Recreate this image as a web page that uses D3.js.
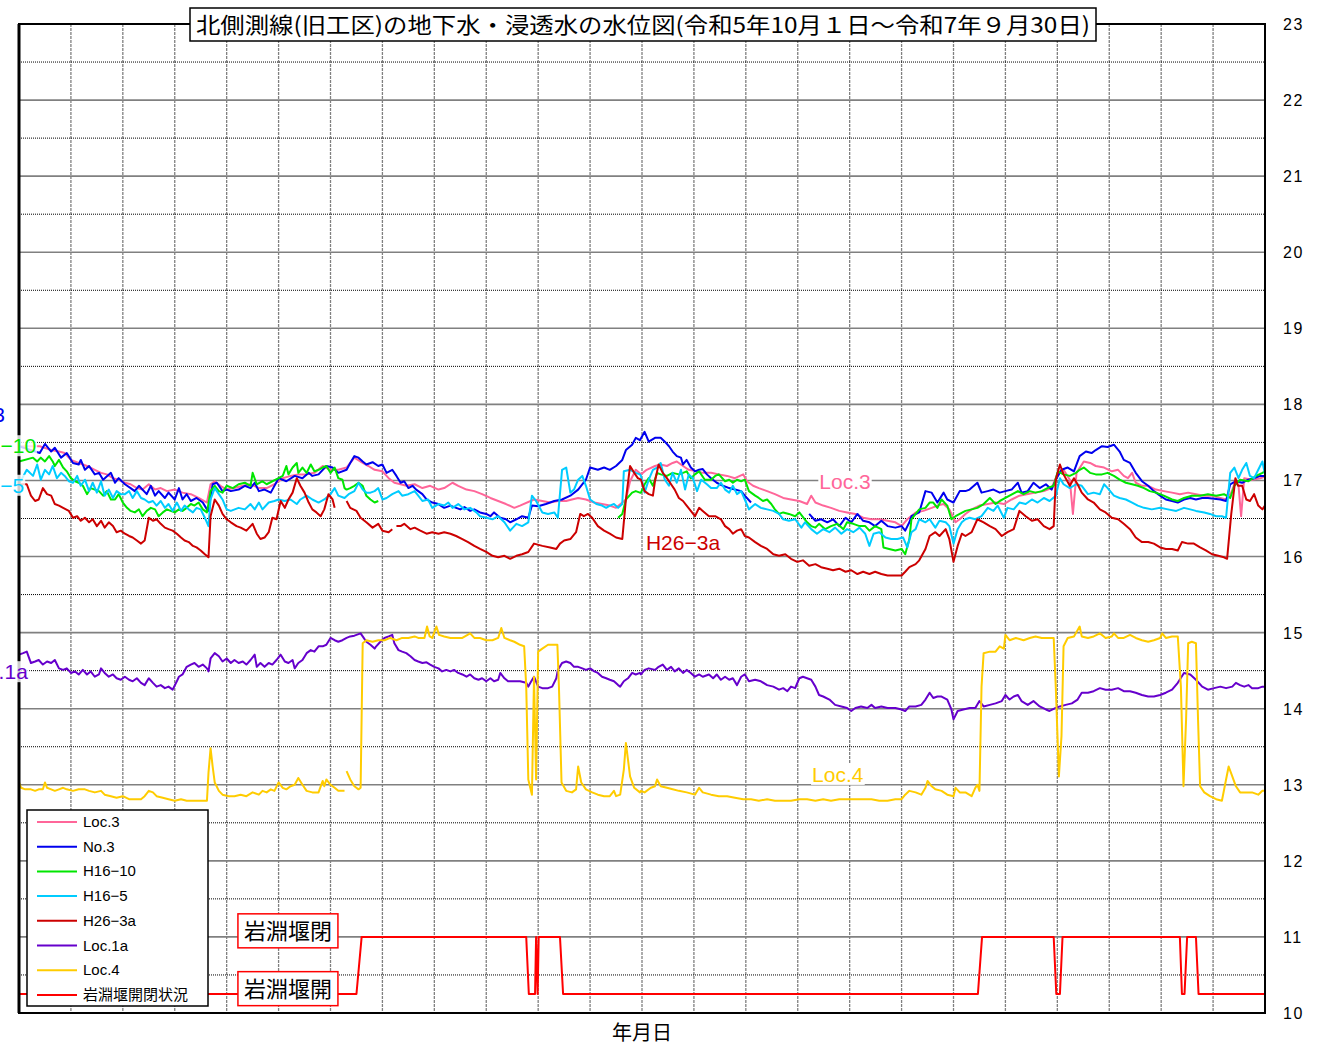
<!DOCTYPE html>
<html>
<head>
<meta charset="utf-8">
<script src="https://cdn.jsdelivr.net/npm/d3@7/dist/d3.min.js"></script>
<style>
  body { margin: 0; background: #fff; }
  svg text { font-family: "Noto Sans CJK JP", "Liberation Sans", sans-serif; }
</style>
</head>
<body>
<svg id="chart" width="1326" height="1047"></svg>
<script>
// x values are months elapsed since 2023-10-01 (0 .. 24), y values are water levels (m)
var loc3 = [[0,17.45],[0.4,17.45],[0.62,17.40],[0.77,17.38],[0.88,17.36],[1.0,17.27],[1.15,17.23],[1.31,17.19],[1.46,17.14],[1.58,17.10],[1.69,17.08],[1.81,17.03],[1.92,17.01],[2.04,16.97],[2.15,16.95],[2.27,16.90],[2.38,16.88],[2.5,16.95],[2.62,16.88],[2.73,16.90],[2.85,16.86],[3.0,16.88],[3.15,16.84],[3.31,16.82],[3.46,16.77],[3.62,16.71],[3.69,16.95],[3.77,16.99],[3.88,16.93],[4.0,16.88],[4.15,16.90],[4.31,16.93],[4.46,16.95],[4.62,16.90],[4.77,16.90],[4.92,16.95],[5.08,17.03],[5.23,17.06],[5.38,17.08],[5.54,17.08],[5.69,17.10],[5.85,17.19],[6.0,17.14],[6.15,17.14],[6.31,17.17],[6.46,17.30],[6.62,17.23],[6.73,17.19],[6.85,17.14],[7.0,17.12],[7.12,17.03],[7.23,16.97],[7.35,16.95],[7.46,16.93],[7.62,16.95],[7.77,16.90],[7.92,16.93],[8.08,16.88],[8.19,16.90],[8.35,16.97],[8.46,16.93],[8.62,16.88],[8.77,16.86],[8.92,16.82],[9.08,16.77],[9.23,16.73],[9.38,16.69],[9.54,16.64],[9.65,16.67],[9.92,16.75],[10.08,16.73],[10.23,16.71],[10.38,16.73],[10.54,16.73],[10.65,16.75],[10.77,16.77],[10.92,16.75],[11.08,16.71],[11.23,16.69],[11.38,16.67],[11.5,16.64],[11.69,16.75],[11.77,16.99],[11.88,17.14],
  [11.98,17.08],[12.09,17.14],[12.25,17.19],[12.36,17.21],[12.48,17.19],[12.59,17.23],[12.67,17.25],[12.79,17.19],[12.9,17.14],[13.06,17.12],[13.17,17.10],[13.33,17.10],[13.48,17.08],[13.64,17.06],[13.79,17.03],[13.95,17.08],[14.02,16.99],[14.14,16.93],[14.25,16.90],[14.41,16.86],[14.56,16.82],[14.72,16.77],[14.87,16.75],[15.03,16.73],[15.18,16.69],[15.26,16.80],[15.34,16.71],[15.49,16.67],[15.64,16.64],[15.8,16.60],[15.95,16.58],[16.11,16.56],[16.26,16.51],[16.42,16.49],[16.57,16.49],[16.73,16.47],[16.88,16.45],[17.0,16.40],[17.11,16.49],[17.27,16.58],[17.42,16.60],[17.58,16.64],[17.69,16.67],[17.81,16.69],[17.92,16.62],[18.04,16.45],[18.12,16.49],[18.23,16.56],[18.35,16.62],[18.5,16.67],[18.66,16.69],[18.81,16.71],[18.97,16.69],[19.12,16.75],[19.27,16.80],[19.41,16.82],[19.58,16.84],[19.74,16.86],[19.89,16.90],[20.01,17.10],[20.12,17.14],[20.24,17.01],[20.3,16.56],[20.37,17.10],[20.51,17.25],[20.63,17.23],[20.74,17.19],[20.9,17.17],[21.05,17.12],[21.17,17.14],[21.28,17.06],[21.36,17.03],[21.44,17.10],[21.51,16.97],[21.63,16.93],[21.75,16.93],[21.9,16.88],[22.05,16.86],[22.21,16.84],[22.36,16.82],[22.52,16.84],[22.67,16.82],[22.83,16.80],[22.98,16.80],[23.14,16.77],[23.25,16.75],[23.35,16.84],[23.43,16.99],[23.49,16.93],[23.54,16.53],[23.6,17.03],[23.75,17.01],[23.91,17.03],[24,17.05]];

var no3 = [[0,17.45],[0.4,17.36],[0.5,17.48],[0.62,17.38],[0.69,17.43],[0.81,17.30],[0.92,17.36],[1.04,17.23],[1.15,17.21],[1.19,17.27],[1.27,17.14],[1.35,17.19],[1.46,17.08],[1.54,17.10],[1.62,17.01],[1.77,17.10],[1.85,16.97],[1.92,17.03],[2.04,16.95],[2.15,16.90],[2.23,16.86],[2.31,16.93],[2.46,16.82],[2.54,16.93],[2.62,16.80],[2.69,16.86],[2.81,16.77],[2.88,16.84],[3.0,16.75],[3.08,16.90],[3.15,16.75],[3.23,16.82],[3.31,16.73],[3.42,16.77],[3.54,16.71],[3.62,16.62],[3.65,16.60],[3.73,16.95],[3.81,16.97],[3.92,16.86],[4.0,16.88],[4.08,16.86],[4.23,16.88],[4.35,16.93],[4.46,16.90],[4.54,16.97],[4.62,16.86],[4.73,16.88],[4.85,16.84],[5.0,17.03],[5.15,16.99],[5.31,17.06],[5.46,17.03],[5.58,17.10],[5.65,17.06],[5.77,17.08],[5.92,17.19],[6.04,17.17],[6.15,17.10],[6.31,17.14],[6.38,17.23],[6.46,17.32],[6.54,17.30],[6.62,17.25],[6.69,17.21],[6.81,17.24],[6.92,17.19],[7.0,17.21],[7.08,17.10],[7.19,17.14],[7.27,17.06],[7.35,16.97],[7.42,16.99],[7.5,16.90],[7.58,16.93],[7.65,16.88],[7.77,16.82],[7.85,16.75],[7.96,16.71],[8.08,16.69],[8.19,16.64],[8.31,16.67],[8.38,16.65],[8.5,16.62],[8.58,16.65],[8.69,16.60],[8.77,16.62],[8.88,16.58],[9.0,16.56],[9.08,16.53],[9.15,16.58],[9.27,16.51],[9.38,16.49],[9.46,16.45],[9.58,16.49],[9.69,16.53],[9.81,16.51],[9.88,16.67],[10.0,16.66],[10.15,16.69],[10.31,16.73],[10.46,16.75],[10.62,16.80],[10.77,16.88],[10.92,17.01],[11.0,17.17],[11.15,17.14],[11.27,17.17],[11.38,17.14],[11.5,17.19],[11.62,17.27],[11.69,17.40],[11.81,17.47],[11.88,17.56],[11.96,17.53],
  [12.05,17.64],[12.13,17.51],[12.25,17.56],[12.36,17.56],[12.44,17.51],[12.52,17.45],[12.59,17.38],[12.67,17.32],[12.75,17.30],[12.79,17.21],[12.86,17.27],[12.94,17.17],[13.02,17.12],[13.1,17.14],[13.17,17.15],[13.25,17.08],[13.33,17.03],[13.44,16.97],[13.56,16.93],[13.68,16.90],[13.79,16.88],[13.91,16.86],[13.98,16.80],[14.1,16.71],null,
  [15.22,16.56],[15.34,16.47],[15.45,16.49],[15.57,16.45],[15.68,16.49],[15.8,16.40],[15.92,16.51],[16.03,16.45],[16.15,16.56],[16.26,16.47],[16.38,16.45],[16.49,16.40],[16.61,16.47],[16.73,16.40],[16.88,16.38],[17.0,16.40],[17.07,16.34],[17.15,16.45],[17.19,16.53],[17.34,16.58],[17.46,16.86],[17.58,16.84],[17.69,16.71],[17.81,16.84],[17.88,16.75],[18.0,16.71],[18.12,16.86],[18.23,16.86],[18.31,16.88],[18.46,16.97],[18.54,16.84],[18.66,16.86],[18.77,16.88],[18.89,16.84],[19.0,16.86],[19.12,16.88],[19.24,16.97],[19.31,16.84],[19.43,16.86],[19.54,16.97],[19.66,16.90],[19.78,16.95],[19.89,16.88],[19.97,17.01],[20.08,17.14],[20.2,17.17],[20.32,17.12],[20.43,17.32],[20.55,17.38],[20.66,17.36],[20.74,17.40],[20.86,17.45],[20.97,17.44],[21.09,17.47],[21.2,17.38],[21.28,17.27],[21.4,17.23],[21.51,17.10],[21.63,16.99],[21.75,16.93],[21.86,16.86],[21.98,16.80],[22.09,16.75],[22.21,16.73],[22.32,16.71],[22.44,16.75],[22.56,16.77],[22.67,16.75],[22.79,16.77],[22.9,16.77],[23.02,16.76],[23.14,16.75],[23.25,16.73],[23.33,16.95],[23.44,16.99],[23.56,16.97],[23.68,17.01],[23.79,17.03],[23.91,17.06],[24,17.06]];

var h16_10 = [[0,17.25],[0.27,17.30],[0.35,17.25],[0.42,17.30],[0.5,17.25],[0.58,17.32],[0.65,17.25],[0.69,17.19],[0.77,17.27],[0.85,17.17],[0.92,17.12],[1.0,17.03],[1.08,16.99],[1.15,16.97],[1.23,16.93],[1.31,16.82],[1.38,16.90],[1.46,16.88],[1.54,16.86],[1.62,16.80],[1.69,16.86],[1.77,16.75],[1.85,16.75],[1.92,16.82],[2.0,16.71],[2.08,16.64],[2.15,16.60],[2.23,16.58],[2.31,16.62],[2.38,16.53],[2.46,16.60],[2.54,16.64],[2.62,16.62],[2.69,16.53],[2.77,16.58],[2.85,16.62],[2.92,16.60],[3.0,16.58],[3.08,16.62],[3.15,16.60],[3.23,16.64],[3.31,16.69],[3.38,16.67],[3.46,16.71],[3.54,16.62],[3.62,16.58],[3.69,16.86],[3.77,16.93],[3.85,16.86],[3.92,16.84],[4.0,16.93],[4.12,16.90],[4.23,16.95],[4.35,16.97],[4.46,16.93],[4.5,17.10],[4.58,16.95],[4.69,16.99],[4.77,16.95],[5.0,17.03],[5.08,17.06],[5.15,17.19],[5.19,17.08],[5.27,17.17],[5.35,17.23],[5.38,17.10],[5.46,17.17],[5.54,17.10],[5.62,17.21],[5.69,17.12],[5.77,17.14],[5.85,17.17],[5.92,17.19],[6.0,17.10],[6.08,17.17],[6.15,17.03],[6.23,17.01],[6.27,16.90],[6.31,16.88],[6.38,16.90],[6.46,16.93],[6.54,16.97],[6.62,16.93],[6.69,16.80],[6.77,16.75],[6.85,16.71],[6.92,16.73],null,
  [11.54,16.51],[11.62,16.56],[11.69,16.75],[11.81,16.84],[11.88,16.86],[11.96,16.84],[11.98,16.84],[12.05,16.95],[12.13,17.03],[12.21,16.93],[12.29,17.10],[12.36,17.08],[12.48,17.06],[12.59,17.10],[12.71,17.08],[12.79,17.10],[12.86,17.12],[12.94,17.03],[13.02,17.08],[13.1,17.12],[13.21,17.01],[13.33,17.01],[13.41,17.06],[13.48,17.08],[13.6,16.99],[13.68,17.01],[13.75,16.97],[13.83,17.01],[13.91,16.99],[13.98,17.01],[14.06,16.86],[14.18,16.80],[14.25,16.77],[14.33,16.73],[14.41,16.75],[14.49,16.69],[14.56,16.62],[14.64,16.56],[14.72,16.58],[14.83,16.56],[14.95,16.53],[15.03,16.58],[15.18,16.45],[15.26,16.40],[15.34,16.38],[15.41,16.43],[15.53,16.36],[15.64,16.40],[15.76,16.43],[15.88,16.36],[15.95,16.45],[16.07,16.43],[16.19,16.40],[16.3,16.40],[16.38,16.34],[16.49,16.40],[16.61,16.36],[16.65,16.12],[16.76,16.10],[16.88,16.08],[17.0,16.10],[17.07,16.03],[17.15,16.23],[17.19,16.49],[17.27,16.56],[17.34,16.62],[17.46,16.64],[17.54,16.71],[17.61,16.71],[17.69,16.64],[17.77,16.75],[17.88,16.67],[17.96,16.49],[18.04,16.53],[18.12,16.56],[18.23,16.60],[18.35,16.62],[18.46,16.64],[18.58,16.69],[18.7,16.77],[18.81,16.69],[18.89,16.73],[19.0,16.77],[19.08,16.80],[19.24,16.86],[19.35,16.82],[19.47,16.86],[19.58,16.84],[19.7,16.86],[19.81,16.90],[19.93,16.93],[20.01,17.12],[20.12,17.08],[20.24,17.06],[20.36,17.10],[20.43,17.14],[20.51,17.17],[20.63,17.10],[20.74,17.08],[20.86,17.08],[20.97,17.10],[21.09,17.06],[21.2,17.01],[21.32,16.97],[21.44,16.95],[21.55,16.93],[21.67,16.90],[21.78,16.86],[21.9,16.84],[22.05,16.80],[22.21,16.75],[22.32,16.73],[22.44,16.77],[22.59,16.80],[22.75,16.80],[22.9,16.82],[23.06,16.80],[23.21,16.82],[23.33,16.77],[23.41,16.93],[23.52,17.01],[23.68,16.99],[23.83,17.06],[23.95,17.10],[24,17.12]];

var h16_5 = [[0,16.95],[0.15,17.14],[0.27,17.06],[0.35,17.21],[0.42,17.01],[0.5,17.14],[0.58,17.08],[0.65,17.19],[0.73,17.03],[0.81,17.10],[0.88,17.06],[0.96,16.99],[1.04,16.97],[1.12,17.06],[1.19,16.93],[1.27,17.01],[1.35,16.86],[1.42,16.97],[1.5,16.84],[1.58,16.99],[1.65,16.80],[1.73,16.88],[1.81,16.77],[1.88,16.86],[1.96,16.82],[2.04,16.82],[2.12,16.86],[2.19,16.77],[2.27,16.86],[2.35,16.77],[2.42,16.75],[2.5,16.71],[2.58,16.73],[2.65,16.67],[2.73,16.73],[2.81,16.64],[2.88,16.69],[2.96,16.60],[3.04,16.71],[3.12,16.60],[3.19,16.67],[3.27,16.62],[3.35,16.58],[3.42,16.64],[3.5,16.62],[3.58,16.51],[3.65,16.40],[3.69,16.75],[3.77,16.90],[3.85,16.82],[3.92,16.75],[4.0,16.62],[4.08,16.60],[4.23,16.64],[4.35,16.62],[4.46,16.69],[4.54,16.62],[4.62,16.71],[4.69,16.62],[4.81,16.71],[4.92,16.73],[5.0,16.75],[5.12,16.73],[5.23,16.75],[5.35,16.69],[5.42,16.75],[5.54,16.80],[5.65,16.75],[5.77,16.71],[5.88,16.75],[6.0,16.82],[6.08,16.90],[6.15,16.80],[6.27,16.77],[6.35,16.82],[6.46,16.86],[6.54,16.97],[6.62,16.88],[6.69,16.84],[6.77,16.84],[6.85,16.86],[6.92,16.90],[7.0,16.75],[7.08,16.77],[7.19,16.82],[7.31,16.86],[7.38,16.80],[7.5,16.82],[7.62,16.86],[7.69,16.80],[7.77,16.73],[7.88,16.75],[7.96,16.64],[8.08,16.69],[8.19,16.67],[8.27,16.71],[8.35,16.64],[8.46,16.69],[8.58,16.62],[8.69,16.64],[8.81,16.58],[8.88,16.53],[9.0,16.51],[9.12,16.49],[9.23,16.53],[9.35,16.45],[9.46,16.34],[9.58,16.43],[9.69,16.40],[9.81,16.45],[9.88,16.80],[9.96,16.73],[10.08,16.58],[10.19,16.56],[10.31,16.58],[10.38,16.51],[10.46,17.14],[10.54,17.17],[10.62,16.84],[10.69,16.88],[10.77,17.01],[10.85,17.06],[10.92,16.93],[11.0,16.75],[11.12,16.69],[11.23,16.67],[11.31,16.64],[11.38,16.67],[11.46,16.69],[11.54,16.64],[11.62,16.69],[11.65,17.12],[11.77,17.14],[11.88,17.10],[11.96,17.08],
  [11.98,17.06],[12.05,16.84],[12.13,17.01],[12.21,17.14],[12.29,17.17],[12.36,17.23],[12.44,17.01],[12.52,16.93],[12.59,17.10],[12.67,16.97],[12.75,17.14],[12.83,16.88],[12.9,17.08],[12.98,17.03],[13.06,16.86],[13.14,17.01],[13.25,16.95],[13.33,16.90],[13.44,16.90],[13.52,16.97],[13.6,16.88],[13.68,16.84],[13.75,16.93],[13.83,16.82],[13.91,16.86],[13.98,16.75],[14.06,16.62],[14.18,16.69],[14.29,16.64],[14.41,16.62],[14.53,16.60],[14.64,16.56],[14.72,16.49],[14.83,16.47],[14.95,16.49],[15.07,16.38],[15.14,16.45],[15.26,16.36],[15.37,16.30],[15.49,16.36],[15.61,16.32],[15.72,16.38],[15.84,16.30],[15.95,16.36],[16.07,16.32],[16.19,16.38],[16.3,16.30],[16.38,16.14],[16.46,16.30],[16.57,16.32],[16.69,16.25],[16.8,16.23],[16.92,16.23],[17.03,16.25],[17.11,16.12],[17.19,16.32],[17.27,16.36],[17.34,16.49],[17.46,16.45],[17.54,16.49],[17.65,16.38],[17.73,16.47],[17.85,16.45],[17.92,16.40],[18.0,16.17],[18.08,16.36],[18.16,16.45],[18.23,16.49],[18.31,16.51],[18.42,16.49],[18.54,16.53],[18.66,16.64],[18.77,16.60],[18.85,16.67],[18.97,16.51],[19.04,16.64],[19.16,16.62],[19.27,16.71],[19.39,16.69],[19.51,16.75],[19.62,16.71],[19.74,16.77],[19.85,16.73],[19.97,16.80],[20.05,17.03],[20.12,16.95],[20.24,16.90],[20.36,16.95],[20.47,16.93],[20.59,16.82],[20.7,16.84],[20.82,16.82],[20.9,16.95],[20.97,16.90],[21.09,16.80],[21.2,16.77],[21.32,16.75],[21.44,16.71],[21.55,16.67],[21.67,16.64],[21.82,16.62],[21.98,16.64],[22.13,16.62],[22.29,16.60],[22.44,16.64],[22.56,16.62],[22.67,16.60],[22.83,16.58],[22.94,16.56],[23.06,16.53],[23.17,16.53],[23.25,16.51],[23.33,17.10],[23.41,17.17],[23.49,17.03],[23.56,17.14],[23.64,17.23],[23.71,17.06],[23.79,17.03],[23.87,17.14],[23.95,17.25],[24,17.08]];

var h26_3a = [[0,16.95],[0.15,16.95],[0.23,16.80],[0.31,16.73],[0.38,16.75],[0.46,16.90],[0.54,16.82],[0.62,16.80],[0.69,16.69],[0.77,16.67],[0.85,16.64],[0.96,16.60],[1.04,16.51],[1.12,16.53],[1.19,16.47],[1.27,16.51],[1.35,16.45],[1.42,16.49],[1.5,16.40],[1.58,16.47],[1.65,16.38],[1.73,16.45],[1.81,16.40],[1.88,16.32],[1.96,16.34],[2.04,16.30],[2.12,16.27],[2.19,16.25],[2.27,16.21],[2.35,16.17],[2.42,16.21],[2.5,16.51],[2.58,16.47],[2.65,16.49],[2.73,16.43],[2.81,16.38],[2.88,16.36],[2.96,16.34],[3.04,16.30],[3.12,16.25],[3.19,16.21],[3.27,16.19],[3.35,16.14],[3.42,16.12],[3.5,16.08],[3.58,16.03],[3.65,15.99],[3.69,16.53],[3.77,16.75],[3.85,16.67],[3.92,16.56],[4.0,16.49],[4.08,16.45],[4.19,16.40],[4.27,16.38],[4.38,16.34],[4.5,16.43],[4.58,16.30],[4.65,16.23],[4.73,16.25],[4.81,16.32],[4.88,16.51],[4.96,16.49],[5.04,16.73],[5.12,16.64],[5.19,16.75],[5.27,16.84],[5.35,17.03],[5.42,16.93],[5.5,16.84],[5.58,16.71],[5.65,16.62],[5.73,16.58],[5.81,16.53],[5.88,16.62],[5.96,16.82],[6.04,16.75],[6.08,16.64],null,
  [6.31,16.73],[6.38,16.64],[6.5,16.60],[6.58,16.51],[6.69,16.45],[6.81,16.38],[6.92,16.43],[7.0,16.34],[7.12,16.32],[7.19,16.36],null,
  [7.27,16.40],[7.35,16.40],[7.42,16.43],[7.54,16.36],[7.62,16.38],[7.73,16.34],[7.85,16.30],[7.96,16.32],[8.08,16.30],[8.19,16.32],[8.31,16.30],[8.42,16.27],[8.54,16.23],[8.65,16.19],[8.77,16.14],[8.88,16.10],[9.0,16.06],[9.12,16.01],[9.23,15.99],[9.35,16.01],[9.46,15.97],[9.58,16.01],[9.69,16.03],[9.81,16.06],[9.92,16.17],[10.08,16.14],[10.23,16.12],[10.35,16.10],[10.42,16.17],[10.5,16.21],[10.62,16.23],[10.73,16.32],[10.81,16.56],[10.88,16.53],[10.96,16.56],[11.04,16.51],[11.15,16.40],[11.27,16.34],[11.38,16.30],[11.5,16.25],[11.62,16.23],[11.69,16.75],[11.77,17.19],[11.85,17.10],[11.92,17.03],
  [11.98,17.01],[12.05,16.86],[12.13,16.82],[12.21,16.80],[12.25,16.99],[12.32,17.21],[12.4,17.10],[12.48,17.03],[12.56,16.95],[12.63,16.88],[12.71,16.77],[12.79,16.73],[12.86,16.67],[12.94,16.60],[13.02,16.53],[13.1,16.64],[13.17,16.60],[13.29,16.53],[13.41,16.53],[13.52,16.49],[13.6,16.40],[13.68,16.36],[13.75,16.30],[13.83,16.34],[13.91,16.36],[13.98,16.27],[14.06,16.25],[14.18,16.19],[14.29,16.14],[14.41,16.10],[14.53,16.03],[14.64,16.01],[14.76,16.03],[14.87,15.97],[14.99,15.93],[15.1,15.95],[15.22,15.88],[15.34,15.90],[15.45,15.86],[15.57,15.84],[15.68,15.82],[15.8,15.84],[15.92,15.80],[16.03,15.82],[16.15,15.77],[16.26,15.80],[16.38,15.77],[16.49,15.80],[16.61,15.77],[16.73,15.75],[16.88,15.75],[17.0,15.75],[17.07,15.80],[17.15,15.86],[17.27,15.90],[17.34,15.95],[17.46,16.10],[17.54,16.27],[17.65,16.32],[17.73,16.27],[17.85,16.36],[17.92,16.23],[18.0,15.93],[18.08,16.14],[18.16,16.30],[18.23,16.27],[18.35,16.32],[18.46,16.49],[18.58,16.45],[18.7,16.40],[18.81,16.36],[18.93,16.27],[19.04,16.32],[19.16,16.36],[19.27,16.60],[19.39,16.53],[19.51,16.47],[19.62,16.49],[19.74,16.40],[19.85,16.36],[19.93,16.40],[19.97,17.01],[20.05,17.21],[20.12,17.08],[20.24,16.93],[20.32,17.03],[20.39,16.95],[20.47,16.84],[20.59,16.75],[20.7,16.71],[20.82,16.62],[20.93,16.58],[21.05,16.51],[21.17,16.49],[21.28,16.43],[21.4,16.36],[21.51,16.25],[21.63,16.19],[21.75,16.19],[21.86,16.17],[21.98,16.12],[22.09,16.10],[22.21,16.10],[22.32,16.08],[22.4,16.19],[22.52,16.17],[22.63,16.17],[22.75,16.12],[22.86,16.08],[22.98,16.03],[23.1,16.01],[23.21,15.99],[23.27,15.97],[23.35,16.56],[23.43,17.03],[23.48,16.93],[23.56,16.93],[23.64,16.75],[23.71,16.73],[23.79,16.82],[23.87,16.67],[23.95,16.62],[24,16.67]];

var loc1a = [[0,14.71],[0.08,14.73],[0.15,14.75],[0.23,14.60],[0.31,14.62],[0.38,14.64],[0.46,14.58],[0.54,14.62],[0.62,14.60],[0.69,14.64],[0.77,14.53],[0.85,14.51],[0.92,14.53],[1.0,14.47],[1.08,14.49],[1.15,14.45],[1.23,14.51],[1.31,14.45],[1.38,14.49],[1.46,14.42],[1.54,14.45],[1.58,14.53],[1.65,14.47],[1.73,14.42],[1.81,14.45],[1.88,14.40],[1.96,14.38],[2.04,14.42],[2.12,14.38],[2.19,14.36],[2.27,14.40],[2.35,14.34],[2.42,14.31],[2.5,14.40],[2.58,14.34],[2.65,14.29],[2.73,14.31],[2.81,14.27],[2.88,14.29],[2.96,14.25],[3.04,14.36],[3.08,14.42],[3.15,14.45],[3.23,14.55],[3.31,14.58],[3.38,14.60],[3.46,14.55],[3.54,14.58],[3.62,14.53],[3.65,14.49],[3.69,14.66],[3.77,14.73],[3.85,14.69],[3.92,14.62],[4.0,14.66],[4.08,14.60],[4.15,14.64],[4.23,14.60],[4.31,14.62],[4.38,14.58],[4.46,14.64],[4.54,14.71],[4.58,14.55],[4.65,14.60],[4.73,14.55],[4.81,14.60],[4.88,14.58],[4.96,14.64],[5.04,14.71],[5.12,14.62],[5.19,14.60],[5.27,14.64],[5.31,14.53],[5.38,14.60],[5.46,14.64],[5.54,14.73],[5.62,14.77],[5.69,14.75],[5.77,14.82],[5.85,14.82],[5.92,14.84],[6.0,14.93],[6.08,14.90],[6.15,14.88],[6.23,14.90],[6.31,14.93],[6.38,14.95],[6.46,14.96],[6.58,14.99],[6.62,14.95],[6.69,14.88],[6.77,14.84],[6.85,14.79],[6.88,14.82],[6.96,14.88],[7.04,14.93],[7.12,14.95],[7.19,14.97],[7.23,14.86],[7.31,14.77],[7.38,14.75],[7.46,14.73],[7.54,14.69],[7.62,14.64],[7.69,14.62],[7.77,14.60],[7.85,14.61],[7.92,14.58],[8.0,14.55],[8.08,14.53],[8.15,14.49],[8.23,14.51],[8.31,14.49],[8.38,14.51],[8.46,14.47],[8.54,14.45],[8.62,14.42],[8.69,14.45],[8.77,14.40],[8.85,14.38],[8.92,14.40],[9.0,14.36],[9.08,14.40],[9.15,14.36],[9.23,14.38],[9.27,14.47],[9.35,14.40],[9.42,14.36],[9.54,14.36],[9.65,14.36],[9.77,14.34],[9.81,14.29],[9.85,14.34],[9.92,14.42],[10.0,14.29],[10.08,14.27],[10.19,14.27],[10.27,14.29],[10.35,14.40],[10.38,14.51],[10.46,14.60],[10.54,14.62],[10.62,14.60],[10.69,14.55],[10.77,14.55],[10.85,14.53],[10.92,14.51],[11.0,14.53],[11.08,14.49],[11.15,14.47],[11.23,14.42],[11.31,14.40],[11.38,14.38],[11.46,14.36],[11.54,14.31],[11.58,14.29],[11.65,14.36],[11.73,14.40],[11.81,14.47],[11.88,14.45],[11.96,14.47],
  [11.98,14.45],[12.05,14.51],[12.13,14.53],[12.25,14.51],[12.32,14.55],[12.4,14.58],[12.48,14.51],[12.56,14.55],[12.63,14.49],[12.71,14.53],[12.79,14.47],[12.86,14.51],[12.94,14.47],[13.02,14.42],[13.1,14.45],[13.17,14.42],[13.29,14.45],[13.37,14.40],[13.44,14.45],[13.52,14.38],[13.6,14.42],[13.68,14.38],[13.75,14.40],[13.83,14.31],[13.91,14.42],[13.98,14.45],[14.06,14.36],[14.18,14.38],[14.29,14.36],[14.41,14.31],[14.53,14.29],[14.64,14.25],[14.72,14.27],[14.8,14.23],[14.87,14.29],[14.95,14.27],[15.03,14.40],[15.1,14.42],[15.18,14.40],[15.26,14.38],[15.34,14.29],[15.41,14.18],[15.49,14.16],[15.61,14.12],[15.72,14.05],[15.84,14.03],[15.95,14.01],[16.03,13.97],[16.11,14.01],[16.22,14.03],[16.34,14.01],[16.42,14.05],[16.49,14.01],[16.61,14.03],[16.73,14.01],[16.88,14.01],[17.0,13.99],[17.07,13.97],[17.15,14.03],[17.27,14.03],[17.38,14.05],[17.46,14.12],[17.54,14.21],[17.61,14.14],[17.69,14.16],[17.77,14.16],[17.88,14.12],[17.96,13.99],[18.0,13.86],[18.08,13.97],[18.19,13.99],[18.31,14.01],[18.42,14.01],[18.5,14.10],[18.58,14.03],[18.7,14.05],[18.81,14.07],[18.93,14.10],[19.0,14.18],[19.08,14.12],[19.16,14.16],[19.24,14.18],[19.31,14.10],[19.43,14.05],[19.54,14.10],[19.66,14.03],[19.78,13.99],[19.85,13.97],[19.97,14.01],[20.05,14.03],[20.16,14.05],[20.28,14.07],[20.39,14.12],[20.47,14.21],[20.59,14.21],[20.7,14.23],[20.82,14.27],[20.93,14.25],[21.05,14.25],[21.17,14.27],[21.28,14.23],[21.4,14.23],[21.51,14.21],[21.63,14.18],[21.75,14.16],[21.86,14.16],[21.98,14.18],[22.09,14.21],[22.21,14.25],[22.32,14.34],[22.44,14.47],[22.56,14.45],[22.67,14.38],[22.79,14.29],[22.9,14.25],[23.02,14.27],[23.14,14.29],[23.25,14.27],[23.37,14.29],[23.44,14.34],[23.52,14.31],[23.6,14.29],[23.68,14.31],[23.75,14.27],[23.87,14.27],[23.95,14.29],[24,14.29]];

var loc4 = [[0,13.03],[0.04,12.96],[0.12,12.94],[0.23,12.94],[0.31,12.92],[0.38,12.94],[0.46,12.94],[0.5,13.03],[0.54,12.96],[0.62,12.94],[0.69,12.92],[0.77,12.94],[0.85,12.96],[0.92,12.94],[1.04,12.92],[1.15,12.94],[1.27,12.94],[1.35,12.92],[1.46,12.90],[1.58,12.92],[1.65,12.87],[1.77,12.85],[1.88,12.83],[2.0,12.85],[2.12,12.81],[2.23,12.81],[2.35,12.81],[2.42,12.85],[2.5,12.92],[2.58,12.90],[2.65,12.85],[2.77,12.83],[2.88,12.81],[3.0,12.79],[3.12,12.81],[3.23,12.79],[3.35,12.79],[3.46,12.79],[3.54,12.79],[3.62,12.79],[3.65,13.16],[3.69,13.48],[3.73,13.24],[3.77,13.03],[3.85,12.92],[3.92,12.87],[4.04,12.85],[4.15,12.85],[4.27,12.87],[4.38,12.85],[4.5,12.90],[4.62,12.87],[4.69,12.92],[4.77,12.90],[4.85,12.94],[4.92,12.92],[5.0,13.03],[5.08,12.96],[5.15,12.94],[5.23,12.98],[5.31,13.00],[5.38,13.09],[5.46,13.00],[5.54,12.92],[5.65,12.90],[5.77,12.90],[5.85,13.05],[5.88,12.98],[5.92,13.07],[6.0,13.00],[6.08,12.96],[6.15,12.92],[6.27,12.92],null,
  [6.31,13.18],[6.38,13.07],[6.46,12.98],[6.54,12.94],[6.58,12.96],[6.62,14.86],[6.69,14.90],[6.81,14.88],[6.92,14.90],[7.04,14.90],[7.15,14.93],[7.27,14.90],[7.38,14.93],[7.5,14.93],[7.62,14.95],[7.69,14.93],[7.81,14.93],[7.86,15.08],[7.91,14.95],[7.96,14.93],[8.04,15.08],[8.09,14.97],[8.19,14.95],[8.31,14.93],[8.42,14.93],[8.54,14.93],[8.69,14.99],[8.77,14.93],[8.88,14.93],[9.0,14.90],[9.12,14.90],[9.23,14.93],[9.29,15.06],[9.35,14.93],[9.46,14.90],[9.54,14.88],[9.65,14.84],[9.73,14.82],[9.77,14.29],[9.81,13.07],[9.88,12.87],[9.92,14.42],[9.96,13.07],[10.0,14.75],[10.08,14.79],[10.19,14.84],[10.31,14.84],[10.37,14.84],[10.4,14.29],[10.45,13.03],[10.54,12.92],[10.65,12.90],[10.73,12.94],[10.77,13.24],[10.83,13.03],[10.92,12.94],[11.04,12.90],[11.15,12.87],[11.27,12.85],[11.38,12.85],[11.46,12.92],[11.5,12.85],[11.58,12.87],[11.65,13.20],[11.69,13.55],[11.77,13.11],[11.85,12.96],[11.96,12.90],
  [11.98,12.92],[12.05,12.90],[12.17,12.96],[12.25,12.98],[12.29,13.07],[12.36,12.98],[12.48,12.96],[12.59,12.94],[12.71,12.92],[12.86,12.90],[13.02,12.87],[13.1,12.96],[13.17,12.90],[13.33,12.87],[13.48,12.85],[13.64,12.85],[13.79,12.83],[13.95,12.81],[14.1,12.81],[14.25,12.79],[14.41,12.81],[14.56,12.79],[14.72,12.79],[14.87,12.79],[15.03,12.81],[15.18,12.81],[15.34,12.79],[15.49,12.81],[15.64,12.79],[15.8,12.81],[15.95,12.81],[16.11,12.81],[16.26,12.81],[16.42,12.81],[16.57,12.79],[16.73,12.79],[16.88,12.81],[17.0,12.81],[17.07,12.87],[17.15,12.92],[17.27,12.90],[17.38,12.87],[17.46,12.96],[17.5,13.05],[17.58,12.98],[17.65,12.94],[17.77,12.92],[17.88,12.87],[18.0,12.85],[18.04,12.96],[18.12,12.90],[18.23,12.90],[18.35,12.85],[18.42,12.96],[18.46,13.00],[18.5,12.92],[18.54,14.29],[18.58,14.73],[18.7,14.75],[18.81,14.75],[18.89,14.82],[18.97,14.79],[19.0,14.97],[19.08,14.90],[19.2,14.93],[19.35,14.90],[19.47,14.93],[19.58,14.95],[19.7,14.93],[19.81,14.93],[19.93,14.93],[19.97,14.29],[20.03,13.11],[20.08,13.64],[20.12,14.82],[20.2,14.93],[20.32,14.95],[20.43,15.08],[20.47,14.95],[20.59,14.93],[20.7,14.95],[20.82,14.99],[20.93,14.93],[21.05,14.95],[21.09,14.99],[21.17,14.93],[21.28,14.93],[21.4,14.97],[21.51,14.93],[21.63,14.90],[21.75,14.88],[21.86,14.90],[21.98,14.93],[22.02,14.99],[22.09,14.93],[22.21,14.95],[22.32,14.95],[22.38,14.29],[22.43,12.98],[22.48,13.86],[22.52,14.86],[22.59,14.88],[22.67,14.86],[22.71,13.86],[22.75,12.98],[22.83,12.90],[22.94,12.85],[23.06,12.81],[23.17,12.79],[23.25,13.07],[23.3,13.24],[23.37,13.11],[23.44,12.98],[23.52,12.90],[23.64,12.90],[23.75,12.90],[23.87,12.87],[23.95,12.92],[24,12.92]];

// 岩淵堰 open/close status drawn on the same axis: 11 = closed, 10.25 = open
var gate = [[0,10.25],[6.5,10.25],[6.6,11],[9.77,11],[9.82,10.25],[9.94,10.25],[9.96,11],[9.99,10.25],[10.01,11],[10.42,11],[10.48,10.25],[18.47,10.25],[18.55,11],[19.93,11],[19.98,10.25],[20.05,10.25],[20.1,11],[22.36,11],[22.4,10.25],[22.45,10.25],[22.5,11],[22.67,11],[22.72,10.25],[24,10.25]];

var seriesNames = ['Loc.3', 'No.3', 'H16\u221210', 'H16\u22125', 'H26\u22123a', 'Loc.1a', 'Loc.4', '岩淵堰開閉状況'];
var seriesColors = ['#ff6699', '#0000ee', '#00e600', '#00ccff', '#cc0000', '#6600cc', '#ffcc00', '#ff0000'];
var seriesData = [loc3, no3, h16_10, h16_5, h26_3a, loc1a, loc4, gate];
var yTicks = [10, 11, 12, 13, 14, 15, 16, 17, 18, 19, 20, 21, 22, 23];

var titleText = '北側測線(旧工区)の地下水・浸透水の水位図(令和5年10月１日～令和7年９月30日)';

var svg = d3.select('#chart');
var x = d3.scaleLinear().domain([0, 24]).range([19, 1265]);
var y = d3.scaleLinear().domain([10, 23]).range([1013, 24]);

// grid
var grid = svg.append('g');
grid.selectAll('line.v').data(d3.range(1, 24)).enter().append('line')
    .attr('x1', function (d) { return x(d); }).attr('x2', function (d) { return x(d); })
    .attr('y1', y(23)).attr('y2', y(10))
    .style('stroke', '#808080').style('stroke-width', 1.3).style('stroke-dasharray', '3,1');
grid.selectAll('line.h').data(d3.range(10.5, 23, 0.5)).enter().append('line')
    .attr('x1', x(0)).attr('x2', x(24))
    .attr('y1', function (d) { return y(d); }).attr('y2', function (d) { return y(d); })
    .style('stroke', function (d) { return d % 1 === 0 ? '#808080' : '#000'; })
    .style('stroke-width', function (d) { return d % 1 === 0 ? 1.6 : 1; })
    .style('stroke-dasharray', function (d) { return d % 1 === 0 ? null : '1,1'; });

// series
var line = d3.line()
    .defined(function (d) { return d !== null; })
    .x(function (d) { return x(d[0]); })
    .y(function (d) { return y(d[1]); });

var plot = svg.append('g');
seriesData.forEach(function (data, i) {
    plot.append('path')
        .attr('d', line(data))
        .style('fill', 'none')
        .style('stroke', seriesColors[i])
        .style('stroke-width', 2)
        .style('stroke-linejoin', 'round');
});

// frame
svg.append('rect')
    .attr('x', x(0)).attr('y', y(23))
    .attr('width', x(24) - x(0)).attr('height', y(10) - y(23))
    .style('fill', 'none').style('stroke', '#000').style('stroke-width', 2);
svg.append('line')
    .attr('x1', x(0)).attr('x2', x(0)).attr('y1', y(23)).attr('y2', y(10))
    .style('stroke', '#000').style('stroke-width', 3);

// right axis labels
svg.append('g').selectAll('text').data(yTicks).enter().append('text')
    .attr('x', 1283)
    .attr('y', function (d) { return y(d) + 6; })
    .style('font-family', 'Liberation Sans, sans-serif')
    .style('font-size', '16px')
    .style('letter-spacing', '1.5px')
    .text(function (d) { return d; });

// data labels on the lines (the left ones run off the edge, as in the original)
function boxedLabel(text, mx, vy, color, anchor, bgOpacity) {
    var g = svg.append('g');
    var t = g.append('text')
        .attr('x', x(mx)).attr('y', y(vy) + 7)
        .attr('text-anchor', anchor)
        .style('font-family', 'Liberation Sans, sans-serif')
        .style('font-size', '21px')
        .style('fill', color)
        .text(text);
    var b = t.node().getBBox();
    g.insert('rect', 'text')
        .attr('x', b.x - 1).attr('y', b.y + 1)
        .attr('width', b.width + 2).attr('height', b.height - 2)
        .style('fill', '#fff').style('opacity', bgOpacity);
}
boxedLabel('Loc.3', 15.91, 16.98, '#ff6699', 'middle', 1);
boxedLabel('H26\u22123a', 12.79, 16.18, '#cc0000', 'middle', 1);
boxedLabel('Loc.4', 15.77, 13.13, '#ffcc00', 'middle', 1);
boxedLabel('No.3', -0.27, 17.86, '#0000ee', 'end', 0.8);
boxedLabel('H16\u221210', 0.33, 17.45, '#00e600', 'end', 0.8);
boxedLabel('H16\u22125', 0.1, 16.93, '#00ccff', 'end', 0.8);
boxedLabel('Loc.1a', 0.17, 14.48, '#6600cc', 'end', 0.8);

// gate state boxes
[['岩淵堰閉', 11.08], ['岩淵堰開', 10.32]].forEach(function (d) {
    var cx = x(5.18), cy = y(d[1]);
    svg.append('rect')
        .attr('x', cx - 50).attr('y', cy - 17)
        .attr('width', 100).attr('height', 34)
        .style('fill', '#fff').style('stroke', '#ff0000').style('stroke-width', 1.5);
    svg.append('text')
        .attr('x', cx).attr('y', cy + 8)
        .attr('text-anchor', 'middle')
        .style('font-size', '22px')
        .style('fill', '#000')
        .text(d[0]);
});

// legend
var legend = svg.append('g').attr('transform', 'translate(27,810)');
legend.append('rect')
    .attr('width', 181).attr('height', 196)
    .style('fill', '#fff').style('stroke', '#000').style('stroke-width', 1.5);
seriesNames.forEach(function (name, i) {
    var ly = 12 + i * 24.7;
    legend.append('line')
        .attr('x1', 10).attr('x2', 50).attr('y1', ly).attr('y2', ly)
        .style('stroke', seriesColors[i]).style('stroke-width', 2);
    legend.append('text')
        .attr('x', 56).attr('y', ly + 5)
        .style('font-family', 'Liberation Sans, Noto Sans CJK JP, sans-serif')
        .style('font-size', '15px')
        .text(name);
});

// title
svg.append('rect')
    .attr('x', 190).attr('y', 8).attr('width', 906).attr('height', 33)
    .style('fill', '#fff').style('stroke', '#000').style('stroke-width', 1.5);
svg.append('text')
    .attr('x', 196).attr('y', 33)
    .attr('textLength', 894).attr('lengthAdjust', 'spacingAndGlyphs')
    .style('font-size', '22px')
    .text(titleText);

// x axis title
svg.append('text')
    .attr('x', 642).attr('y', 1040)
    .attr('text-anchor', 'middle')
    .style('font-size', '20px')
    .text('年月日');
</script>
</body>
</html>
